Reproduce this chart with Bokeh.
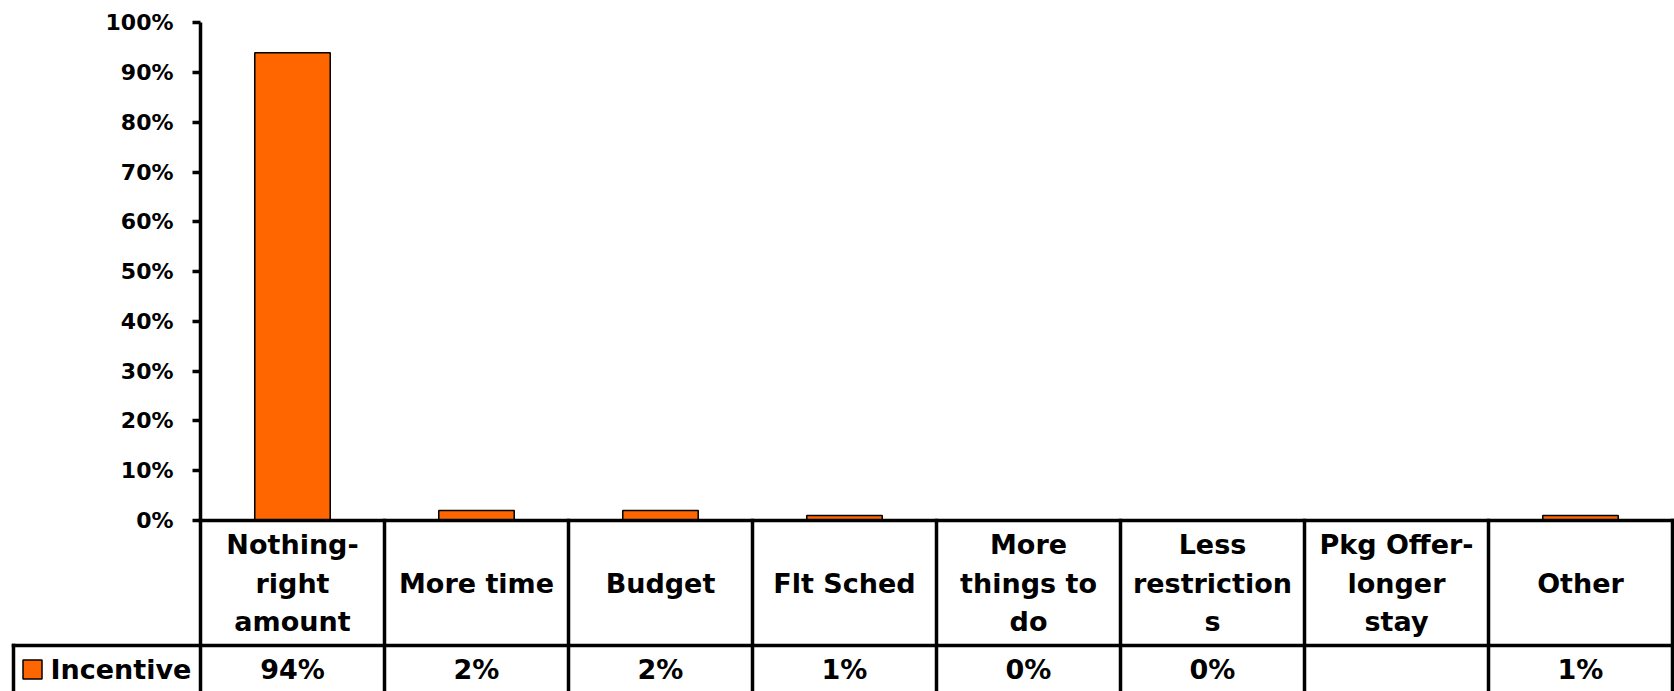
import math
from bokeh.plotting import figure
from bokeh.models import Range1d, LinearAxis, FixedTicker
from bokeh.core.properties import value
from bokeh.embed import file_html
from bokeh.resources import INLINE

# ---- data ----
categories = ["Nothing-\nright\namount", "More time", "Budget", "Flt Sched",
              "More\nthings to\ndo", "Less\nrestriction\ns", "Pkg Offer-\nlonger\nstay", "Other"]
incentive = [94, 2, 2, 1, 0, 0, float("nan"), 1]   # percent; Pkg Offer has no value
series_name = "Incentive"
y_ticks = [0, 10, 20, 30, 40, 50, 60, 70, 80, 90, 100]
y_tick_labels = ["0%", "10%", "20%", "30%", "40%", "50%", "60%", "70%", "80%", "90%", "100%"]

# ---- layout (canvas pixels) ----
W, H = 1674, 691
AXIS_PX = 200          # y axis position
COL_PX = 184           # width of one category column
Y0_PX = 520            # 0% baseline
PX_PER_PCT = 4.976
HEADER_BOTTOM_PX = 645
ROW_MID_PX = 669
LEGEND_LEFT_PX = 13
KEY_PX = 32
LEGEND_TEXT_PX = 50

def xd(px):
    return (px - AXIS_PX) / COL_PX

def yd(px):
    return (Y0_PX - px) / PX_PER_PCT

n = len(categories)
FONT = "DejaVu Sans"
ORANGE = "#FF6600"

p = figure(width=W, height=H,
           x_range=Range1d(xd(0), xd(W)), y_range=Range1d(yd(H), yd(0)),
           output_backend="svg", toolbar_location=None,
           x_axis_location=None, y_axis_location=None,
           min_border=0, outline_line_color=None)
p.grid.visible = False
p.background_fill_color = "white"
p.border_fill_color = "white"

# bars
xs = [i + 0.5 for i in range(n)]
p.vbar(x=xs, top=incentive, bottom=0, width=0.41,
       fill_color=ORANGE, line_color="black", line_width=1.5)

# y axis at x = 0
ax = LinearAxis(fixed_location=0, bounds=(0, 100),
                ticker=FixedTicker(ticks=y_ticks, minor_ticks=[]),
                major_label_overrides={t: l for t, l in zip(y_ticks, y_tick_labels)})
ax.axis_line_width = 3.5
ax.axis_line_color = "black"
ax.major_tick_line_width = 3.5
ax.major_tick_line_color = "black"
ax.major_tick_out = 8
ax.major_tick_in = 0
ax.minor_tick_line_color = None
ax.major_label_text_font = FONT
ax.major_label_text_font_style = "bold"
ax.major_label_text_font_size = "22px"
ax.major_label_text_color = "black"
ax.major_label_standoff = 19
p.add_layout(ax, "left")

# data table lines
hb = yd(HEADER_BOTTOM_PX)
bottom = yd(H + 10)
ll = xd(LEGEND_LEFT_PX)
p.segment(x0=[0, ll], y0=[0, hb], x1=[n, n], y1=[0, hb],
          line_color="black", line_width=3.5, line_cap="square")
p.segment(x0=list(range(n + 1)) + [ll], y0=[0] * (n + 1) + [hb],
          x1=list(range(n + 1)) + [ll], y1=[bottom] * (n + 2),
          line_color="black", line_width=3.5, line_cap="square")

# category labels
hmid = (0 + hb) / 2
p.text(x=xs, y=[hmid] * n, text=categories, text_align="center", text_baseline="middle",
       text_font=value(FONT), text_font_style="bold", text_font_size="27px",
       text_line_height=1.25, text_color="black")

# value row
value_labels = ["" if math.isnan(v) else f"{v:.0f}%" for v in incentive]
rm = yd(ROW_MID_PX)
p.text(x=xs, y=[rm] * n, text=value_labels, text_align="center", text_baseline="middle",
       text_font=value(FONT), text_font_style="bold", text_font_size="27px", text_color="black")

# legend key
p.scatter(x=[xd(KEY_PX)], y=[rm], marker="square", size=19,
          fill_color=ORANGE, line_color="black", line_width=1.5)
p.text(x=[xd(LEGEND_TEXT_PX)], y=[rm], text=[series_name], text_align="left", text_baseline="middle",
       text_font=value(FONT), text_font_style="bold", text_font_size="27px", text_color="black")

open("out.html", "w").write(file_html(p, INLINE))
